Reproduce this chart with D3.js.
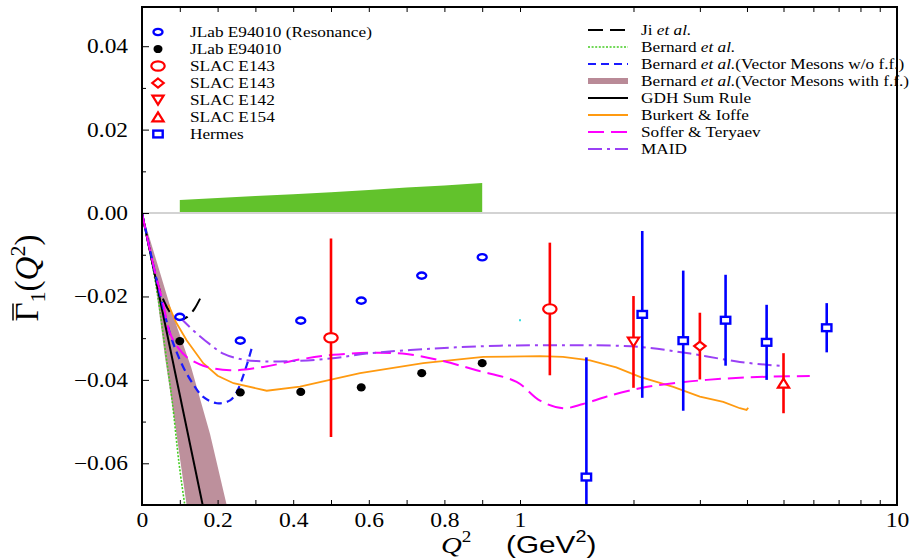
<!DOCTYPE html>
<html><head><meta charset="utf-8">
<script src="https://cdn.jsdelivr.net/npm/d3@7"></script>
<style>
body{margin:0;background:#fff;}
svg{display:block;}
</style></head><body>
<svg id="chart" width="920" height="560"></svg>
<script>
// ---- measured data: Q^2 in GeV^2, Gamma_1 ----
const resQ2 = [0.10, 0.26, 0.42, 0.58, 0.74, 0.90];
const resG1 = [-0.0249, -0.0306, -0.0258, -0.0210, -0.0150, -0.0106];
const e94010Q2 = [0.10, 0.26, 0.42, 0.58, 0.74, 0.90];
const e94010G1 = [-0.0307, -0.0430, -0.0429, -0.0418, -0.0384, -0.0360];
const sysQ2 = [0.10, 0.20, 0.30, 0.40, 0.50, 0.60, 0.70, 0.80, 0.90];
const sysTop = [0.0031, 0.0036, 0.0041, 0.0045, 0.0050, 0.0055, 0.0061, 0.0066, 0.0072];

const e143Q2 = [0.5, 1.2];
const e143G1 = [-0.0299, -0.0230];
const e143Err = [0.0238, 0.0159];
const e143bQ2 = [3.0];
const e143bG1 = [-0.0319];
const e143bErr = [0.0080];
const e142Q2 = [2.0];
const e142G1 = [-0.0309];
const e142Err = [0.0110];
const e154Q2 = [5.0];
const e154G1 = [-0.0408];
const e154Err = [0.0072];
const hermesQ2 = [1.50, 2.11, 2.71, 3.51, 4.51, 6.51];
const hermesG1 = [-0.0633, -0.0243, -0.0306, -0.0257, -0.0310, -0.0275];
const hermesErr = [0.0287, 0.0200, 0.0168, 0.0109, 0.0090, 0.0059];
const strayQ2 = [1.0];
const strayG1 = [-0.0257];

// ---- model curves, [Q^2, Gamma_1] ----
const jiCurve = [[0,0],[0.02,-0.0087],[0.04,-0.0165],[0.06,-0.0215],[0.08,-0.0245],[0.10,-0.0256],[0.12,-0.0249],[0.14,-0.0228],[0.155,-0.0203]];
const bernardCurve = [[0,0],[0.02,-0.0089],[0.04,-0.0190],[0.0653,-0.0353],[0.08,-0.0452],[0.098,-0.0600],[0.114,-0.0705]];
const bernardVM = [[0,0],[0.03,-0.0125],[0.05,-0.0205],[0.074,-0.0289],[0.09,-0.0330],[0.109,-0.0369],[0.135,-0.0410],[0.162,-0.0441],[0.198,-0.0456],[0.233,-0.0449],[0.25,-0.0430],[0.264,-0.0400],[0.277,-0.0365],[0.29,-0.0325]];
const bandLow = [[0,0],[0.03,-0.0130],[0.0608,-0.0345],[0.09,-0.0522],[0.118,-0.0700],[0.122,-0.0725]];
const bandHigh = [[0,0],[0.04,-0.0120],[0.08,-0.0240],[0.13,-0.0370],[0.18,-0.0530],[0.224,-0.0700],[0.232,-0.0730]];
const gdhLine = [[0,0],[0.166,-0.0724]];
const burkertIoffe = [[0.07,-0.0220],[0.09,-0.0262],[0.118,-0.0305],[0.162,-0.0360],[0.20,-0.0390],[0.242,-0.0408],[0.33,-0.0426],[0.418,-0.0416],[0.497,-0.0400],[0.577,-0.0384],[0.744,-0.0360],[0.903,-0.0345],[1.13,-0.0343],[1.30,-0.0345],[1.534,-0.0353],[1.80,-0.0370],[2.08,-0.0393],[2.55,-0.0417],[3.0,-0.0440],[3.46,-0.0453],[3.83,-0.0468],[3.99,-0.0472],[4.03,-0.0467]];
const sofferTeryaev = [[0,0],[0.03,-0.0125],[0.056,-0.0217],[0.074,-0.0288],[0.095,-0.0322],[0.118,-0.0345],[0.162,-0.0366],[0.233,-0.0377],[0.321,-0.0369],[0.418,-0.0351],[0.506,-0.0340],[0.612,-0.0335],[0.70,-0.0338],[0.788,-0.0353],[0.885,-0.0377],[0.991,-0.0405],[1.13,-0.0450],[1.30,-0.0468],[1.47,-0.0458],[1.70,-0.0440],[2.08,-0.0420],[2.55,-0.0408],[3.13,-0.0400],[3.83,-0.0395],[4.69,-0.0392],[5.87,-0.0391]];
const maidCurve = [[0.10,-0.0250],[0.12,-0.0268],[0.145,-0.0289],[0.18,-0.0315],[0.215,-0.0337],[0.26,-0.0350],[0.303,-0.0355],[0.392,-0.0355],[0.497,-0.0349],[0.594,-0.0337],[0.77,-0.0325],[0.947,-0.0318],[1.2,-0.0317],[1.53,-0.0317],[2.08,-0.0321],[2.83,-0.0337],[3.83,-0.0357],[4.99,-0.0367]];

// ---- tick labels ----
const xTickValues = [0, 0.2, 0.4, 0.6, 0.8, 1, 10];
const xTickLabels = ["0", "0.2", "0.4", "0.6", "0.8", "1", "10"];
const yTickValues = [0.04, 0.02, 0.00, -0.02, -0.04, -0.06];
const yTickLabels = ["0.04", "0.02", "0.00", "\u22120.02", "\u22120.04", "\u22120.06"];

const dataLegend = ["JLab E94010 (Resonance)", "JLab E94010", "SLAC E143", "SLAC E143", "SLAC E142", "SLAC E154", "Hermes"];

// ---- layout ----
const L = 142, R = 897, T = 7, B = 505, XMID = 520;
const serif = "'Liberation Serif','DejaVu Serif',serif";
const sans = "'Liberation Sans',Arial,sans-serif";
const RED = "#ff0000", BLUE = "#0000ff";

const svg = d3.select("#chart");

// linear below Q^2 = 1, logarithmic above
const xLin = d3.scaleLinear().domain([0, 1]).range([L, XMID]);
const xLog = d3.scaleLog().domain([1, 10]).range([XMID, R]);
const x = v => v <= 1 ? xLin(v) : xLog(v);
const y = d3.scaleLinear().domain([-0.07, 0.0494]).range([B, T]);

svg.append("defs").append("clipPath").attr("id", "plotClip")
  .append("rect").attr("x", L).attr("y", T).attr("width", R - L).attr("height", B - T);

const plot = svg.append("g").attr("clip-path", "url(#plotClip)");

// zero line
plot.append("line").attr("x1", L).attr("x2", R).attr("y1", y(0)).attr("y2", y(0))
  .attr("stroke", "#c4c4c4").attr("stroke-width", 1.6);

// systematic error band
plot.append("path")
  .datum(sysQ2.map((q, i) => [q, sysTop[i]]))
  .attr("fill", "#62c22c")
  .attr("d", d3.area().x(d => x(d[0])).y0(y(0) - 1).y1(d => y(d[1])));

// vector-meson band (with form factors)
const bandPoly = bandLow.concat(bandHigh.slice().reverse());
plot.append("path")
  .attr("d", "M" + bandPoly.map(d => [x(d[0]), y(d[1])].join(",")).join("L") + "Z")
  .attr("fill", "#b98a97").attr("fill-opacity", 0.95);

const lineGen = (curve) => d3.line().x(d => x(d[0])).y(d => y(d[1])).curve(curve);

const curves = [
  {data: bernardCurve, color: "#44cc22", w: 1.6, dash: "2,1.6", c: d3.curveMonotoneX},
  {data: gdhLine, color: "#000", w: 2, dash: null, c: d3.curveLinear},
  {data: jiCurve, color: "#000", w: 2, dash: "15,7", c: d3.curveMonotoneX},
  {data: bernardVM, color: "#1a1aff", w: 2.2, dash: "8,5", c: d3.curveCatmullRom},
  {data: burkertIoffe, color: "#ff9a10", w: 1.8, dash: null, c: d3.curveLinear},
  {data: sofferTeryaev, color: "#ff00ff", w: 2, dash: "16,7", c: d3.curveCatmullRom},
  {data: maidCurve, color: "#9a40f5", w: 2, dash: "14,5,3,5", c: d3.curveCatmullRom}
];
curves.forEach(k => {
  plot.append("path").datum(k.data)
    .attr("d", lineGen(k.c))
    .attr("fill", "none").attr("stroke", k.color).attr("stroke-width", k.w)
    .attr("stroke-dasharray", k.dash);
});

// marker drawing
function marker(g, type, cx, cy) {
  const s = g.append("g").attr("transform", `translate(${cx},${cy})`);
  switch (type) {
    case "ring":
      s.append("ellipse").attr("rx", 4.5).attr("ry", 3.1).attr("fill", "#fff").attr("stroke", BLUE).attr("stroke-width", 2.4); break;
    case "dot":
      s.append("ellipse").attr("rx", 4.5).attr("ry", 4.1).attr("fill", "#000"); break;
    case "bigring":
      s.append("ellipse").attr("rx", 6.7).attr("ry", 4.7).attr("fill", "#fff").attr("stroke", RED).attr("stroke-width", 2.2); break;
    case "diamond":
      s.append("polygon").attr("points", "0,-4.5 5.7,0 0,4.5 -5.7,0").attr("fill", "#fff").attr("stroke", RED).attr("stroke-width", 2.2); break;
    case "tridown":
      s.append("polygon").attr("points", "-5.6,-4.4 5.6,-4.4 0,4.6").attr("fill", "#fff").attr("stroke", RED).attr("stroke-width", 2.2); break;
    case "triup":
      s.append("polygon").attr("points", "-5.6,4.4 5.6,4.4 0,-4.6").attr("fill", "#fff").attr("stroke", RED).attr("stroke-width", 2.2); break;
    case "square":
      s.append("rect").attr("x", -4.7).attr("y", -3.4).attr("width", 9.4).attr("height", 6.8).attr("fill", "#fff").attr("stroke", BLUE).attr("stroke-width", 2.4); break;
  }
}

function errorSet(q2, g1, err, color, type) {
  q2.forEach((q, i) => {
    plot.append("line").attr("x1", x(q)).attr("x2", x(q))
      .attr("y1", y(g1[i] - err[i])).attr("y2", y(g1[i] + err[i]))
      .attr("stroke", color).attr("stroke-width", 2.6);
  });
  q2.forEach((q, i) => marker(plot, type, x(q), y(g1[i])));
}

resQ2.forEach((q, i) => marker(plot, "ring", x(q), y(resG1[i])));
e94010Q2.forEach((q, i) => marker(plot, "dot", x(q), y(e94010G1[i])));
errorSet(e143Q2, e143G1, e143Err, RED, "bigring");
errorSet(e142Q2, e142G1, e142Err, RED, "tridown");
errorSet(hermesQ2, hermesG1, hermesErr, BLUE, "square");
errorSet(e143bQ2, e143bG1, e143bErr, RED, "diamond");
errorSet(e154Q2, e154G1, e154Err, RED, "triup");
strayQ2.forEach((q, i) => plot.append("rect").attr("x", x(q) - 1).attr("y", y(strayG1[i]) - 1)
  .attr("width", 2).attr("height", 2).attr("fill", "#33dddd"));

// ---- axes ----
const labelFor = (vals, labels) => v => {
  const i = vals.findIndex(t => Math.abs(t - v) < 1e-9);
  return i < 0 ? "" : labels[i];
};
const linTicks = d3.range(0, 11).map(i => i / 10);
const logTicks = [2, 3, 4, 5, 6, 7, 8, 9, 10];
const fmtX = labelFor(xTickValues, xTickLabels);
const XS = 1.15;

function styleXAxis(g) {
  g.select(".domain").remove();
  g.attr("font-family", serif).attr("font-size", 20.5);
  g.selectAll(".tick line").attr("stroke", "#000").attr("stroke-width", 1);
  g.selectAll(".tick text").attr("fill", "#000").attr("transform", `scale(${XS},1)`);
}
svg.append("g").attr("transform", `translate(0,${B})`)
  .call(d3.axisBottom(xLin).tickValues(linTicks).tickSize(-5).tickPadding(7).tickFormat(fmtX)).call(styleXAxis);
svg.append("g").attr("transform", `translate(0,${B})`)
  .call(d3.axisBottom(xLog).tickValues(logTicks).tickSize(-5).tickPadding(7).tickFormat(fmtX)).call(styleXAxis);
svg.append("g").attr("transform", `translate(0,${T})`)
  .call(d3.axisTop(xLin).tickValues(linTicks).tickSize(-5).tickFormat(() => "")).call(styleXAxis);
svg.append("g").attr("transform", `translate(0,${T})`)
  .call(d3.axisTop(xLog).tickValues(logTicks).tickSize(-5).tickFormat(() => "")).call(styleXAxis);

const yTicks = d3.range(-6, 5).map(i => i / 100);
const fmtY = labelFor(yTickValues, yTickLabels);
const YS = 1.17;
svg.append("g").attr("transform", `translate(${L},0)`)
  .call(d3.axisLeft(y).tickValues(yTicks).tickSize(-7).tickPadding(14).tickFormat(fmtY))
  .call(g => {
    g.select(".domain").remove();
    g.attr("font-family", serif).attr("font-size", 20);
    g.selectAll(".tick line").attr("stroke", "#000").attr("stroke-width", 1)
      .attr("x2", d => fmtY(d) ? 7 : 4);
    g.selectAll(".tick text").attr("fill", "#000")
      .attr("x", -14 / YS).attr("transform", `scale(${YS},1)`);
  });

// axis titles
const xt = svg.append("text").attr("font-family", serif).attr("font-size", 24)
  .attr("transform", `translate(441,553) scale(1.2,1)`);
xt.append("tspan").attr("font-style", "italic").text("Q");
xt.append("tspan").attr("font-size", 16).attr("dy", -11).text("2");
const xt2 = svg.append("text").attr("font-family", sans).attr("font-size", 24)
  .attr("transform", `translate(506,553) scale(1.24,1)`);
xt2.append("tspan").text("(GeV");
xt2.append("tspan").attr("font-size", 16).attr("dy", -11).text("2");
xt2.append("tspan").attr("dy", 11).text(")");

const ytG = svg.append("g").attr("transform", "translate(38,278) rotate(-90)");
const yt = ytG.append("text").attr("text-anchor", "middle").attr("font-family", serif).attr("font-size", 33);
yt.append("tspan").text("\u0393");
yt.append("tspan").attr("font-size", 22).attr("dy", 7).text("1");
yt.append("tspan").attr("dy", -7).text("(");
yt.append("tspan").attr("font-style", "italic").text("Q");
yt.append("tspan").attr("font-size", 22).attr("dy", -13).text("2");
yt.append("tspan").attr("dy", 13).text(")");
const ytNode = yt.node();
const ytTotal = ytNode.getComputedTextLength();
const gammaW = ytNode.getSubStringLength(0, 1);
ytG.append("line").attr("x1", -ytTotal / 2 + 1).attr("x2", -ytTotal / 2 + gammaW - 1)
  .attr("y1", -25).attr("y2", -25).attr("stroke", "#000").attr("stroke-width", 1.5);

// ---- legends ----
const LS = 1.19, LF = 14.5;
const dataTypes = ["ring", "dot", "bigring", "diamond", "tridown", "triup", "square"];
const legRowsL = [32, 49, 66, 83, 100, 117, 134];
const legL = svg.append("g");
dataLegend.forEach((name, i) => {
  marker(legL, dataTypes[i], 158, legRowsL[i]);
  legL.append("text").attr("transform", `translate(190,${legRowsL[i] + 5}) scale(${LS},1)`)
    .attr("font-family", serif).attr("font-size", LF).text(name);
});

const modelLegend = [
  {pre: "Ji ", it: "et al.", post: "", color: "#000", w: 2, dash: "15,7"},
  {pre: "Bernard ", it: "et al.", post: "", color: "#44cc22", w: 1.6, dash: "2,1.6"},
  {pre: "Bernard ", it: "et al.", post: "(Vector Mesons w/o f.f.)", color: "#1a1aff", w: 2.2, dash: "8,5"},
  {pre: "Bernard ", it: "et al.", post: "(Vector Mesons with f.f.)", color: "#b98a97", w: 6, dash: null},
  {pre: "GDH Sum Rule", it: "", post: "", color: "#000", w: 2, dash: null},
  {pre: "Burkert & Ioffe", it: "", post: "", color: "#ff9a10", w: 1.8, dash: null},
  {pre: "Soffer & Teryaev", it: "", post: "", color: "#ff00ff", w: 2, dash: "16,7"},
  {pre: "MAID", it: "", post: "", color: "#9a40f5", w: 2, dash: "14,5,3,5"}
];
const legRowsR = [30, 47, 64, 81, 98, 115, 132, 149];
const legR = svg.append("g");
modelLegend.forEach((m, i) => {
  const yy = legRowsR[i];
  legR.append("line").attr("x1", 588).attr("x2", 628).attr("y1", yy).attr("y2", yy)
    .attr("stroke", m.color).attr("stroke-width", m.w).attr("stroke-dasharray", m.dash);
  const t = legR.append("text").attr("transform", `translate(641,${yy + 5}) scale(${LS},1)`)
    .attr("font-family", serif).attr("font-size", LF);
  t.append("tspan").text(m.pre);
  if (m.it) t.append("tspan").attr("font-style", "italic").text(m.it);
  if (m.post) t.append("tspan").text(m.post);
});

// frame
svg.append("rect").attr("x", L).attr("y", T).attr("width", R - L).attr("height", B - T)
  .attr("fill", "none").attr("stroke", "#000").attr("stroke-width", 2);
</script>
</body></html>
